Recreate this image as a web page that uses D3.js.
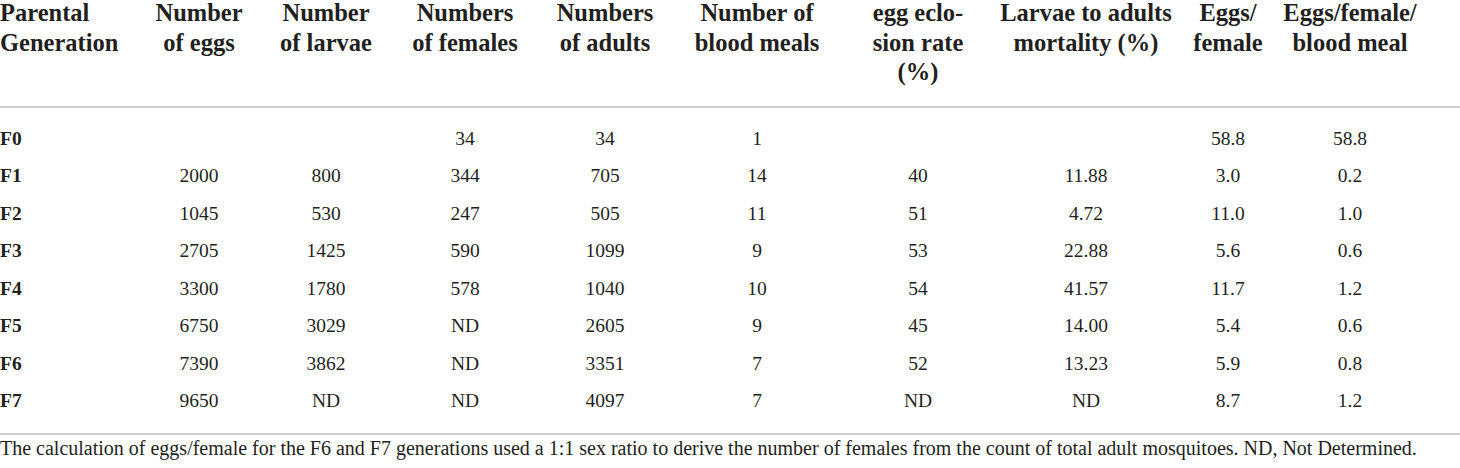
<!DOCTYPE html>
<html>
<head>
<meta charset="utf-8">
<script src="https://cdn.jsdelivr.net/npm/d3@7"></script>
<style>
    body { margin: 0; background: #fff; }
    svg { display: block; }
    svg text { font-family: "Liberation Serif", "DejaVu Serif", serif; }
</style>
</head>
<body>
<svg id="table" width="1460" height="468"></svg>
<script>
// table values
var generations = ["F0", "F1", "F2", "F3", "F4", "F5", "F6", "F7"];
var eggs = ["", "2000", "1045", "2705", "3300", "6750", "7390", "9650"];
var larvae = ["", "800", "530", "1425", "1780", "3029", "3862", "ND"];
var females = ["34", "344", "247", "590", "578", "ND", "ND", "ND"];
var adults = ["34", "705", "505", "1099", "1040", "2605", "3351", "4097"];
var bloodMeals = ["1", "14", "11", "9", "10", "9", "7", "7"];
var eclosionRate = ["", "40", "51", "53", "54", "45", "52", "ND"];
var mortality = ["", "11.88", "4.72", "22.88", "41.57", "14.00", "13.23", "ND"];
var eggsPerFemale = ["58.8", "3.0", "11.0", "5.6", "11.7", "5.4", "5.9", "8.7"];
var eggsPerFemaleMeal = ["58.8", "0.2", "1.0", "0.6", "1.2", "0.6", "0.8", "1.2"];

var headers = [
    ["Parental", "Generation"],
    ["Number", "of eggs"],
    ["Number", "of larvae"],
    ["Numbers", "of females"],
    ["Numbers", "of adults"],
    ["Number of", "blood meals"],
    ["egg eclo-", "sion rate", "(%)"],
    ["Larvae to adults", "mortality (%)"],
    ["Eggs/", "female"],
    ["Eggs/female/", "blood meal"]
];
var footnote = "The calculation of eggs/female for the F6 and F7 generations used a 1:1 sex ratio to derive the number of females from the count of total adult mosquitoes. ND, Not Determined.";

var columns = [generations, eggs, larvae, females, adults, bloodMeals,
    eclosionRate, mortality, eggsPerFemale, eggsPerFemaleMeal];

// layout
var width = 1460;
var colX = [0, 199, 326, 465, 605, 757, 918, 1086, 1228, 1350];
var textColor = "#231f20";
var ruleColor = "#cfcfcf";

var svg = d3.select("#table");
svg.append("rect").attr("width", width).attr("height", 468).attr("fill", "#fff");

var y = d3.scaleLinear()
    .domain([0, generations.length - 1])
    .range([145, 407]);

// header
var head = svg.append("g")
    .style("font-weight", "bold")
    .style("font-size", "24.5px")
    .attr("fill", textColor);

head.selectAll("text")
    .data(headers)
    .enter().append("text")
    .attr("x", function (d, i) { return colX[i]; })
    .attr("y", 21)
    .attr("text-anchor", function (d, i) { return i === 0 ? "start" : "middle"; })
    .each(function (lines, i) {
        d3.select(this).selectAll("tspan")
            .data(lines)
            .enter().append("tspan")
            .attr("x", colX[i])
            .attr("dy", function (l, j) { return j === 0 ? 0 : 29.5; })
            .text(function (l) { return l; });
    });

// rules
svg.append("line")
    .attr("x1", 0).attr("x2", width)
    .attr("y1", 107).attr("y2", 107)
    .attr("stroke", ruleColor).attr("stroke-width", 2);

svg.append("line")
    .attr("x1", 0).attr("x2", width)
    .attr("y1", 434).attr("y2", 434)
    .attr("stroke", ruleColor).attr("stroke-width", 2);

// body
var body = svg.append("g")
    .style("font-size", "19.5px")
    .attr("fill", textColor);

var cols = body.selectAll("g.col")
    .data(columns)
    .enter().append("g")
    .attr("class", "col")
    .style("font-weight", function (d, i) { return i === 0 ? "bold" : "normal"; })
    .attr("text-anchor", function (d, i) { return i === 0 ? "start" : "middle"; });

cols.each(function (values, i) {
    d3.select(this).selectAll("text")
        .data(values)
        .enter().append("text")
        .attr("x", colX[i])
        .attr("y", function (v, r) { return y(r); })
        .text(function (v) { return v; });
});

// footnote
svg.append("text")
    .attr("x", 0)
    .attr("y", 455)
    .style("font-size", "20px")
    .attr("fill", textColor)
    .text(footnote);
</script>
</body>
</html>
